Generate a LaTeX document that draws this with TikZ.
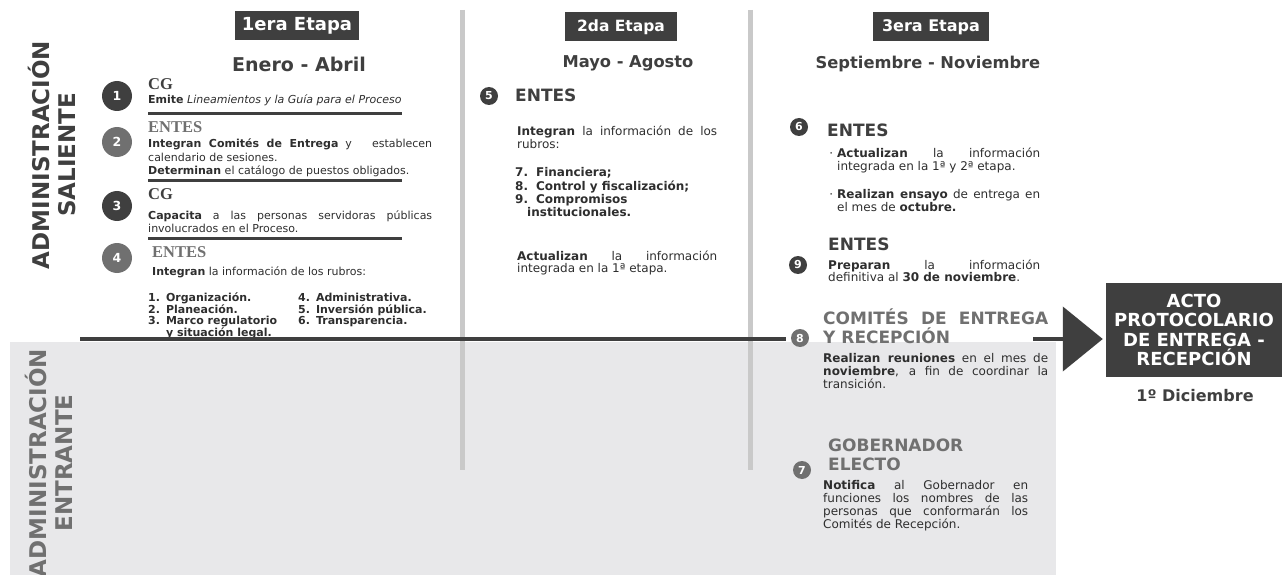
\documentclass[tikz,border=0pt]{standalone}
\usepackage{fontspec}
\setmainfont{DejaVu Sans}
\newfontfamily\hdserif{Liberation Serif}
\usetikzlibrary{arrows.meta}
\definecolor{oscuro}{HTML}{3F3F3F}
\definecolor{gris}{HTML}{707070}
\definecolor{texto}{HTML}{2E2E2E}
\definecolor{separa}{HTML}{C9C9C9}
\definecolor{fondo}{HTML}{E8E8EA}

\begin{document}
\begin{tikzpicture}[x=1pt,y=-1pt,
    etapa/.style={fill=oscuro, text=white, inner sep=0pt, minimum height=29pt, font=\bfseries\fontsize{15.5}{17}\selectfont},
    periodo/.style={text=oscuro, font=\bfseries\fontsize{16.3}{18}\selectfont},
    num/.style={circle, fill=oscuro, text=white, inner sep=0pt, font=\bfseries\fontsize{12.5}{12.5}\selectfont},
    numgr/.style={num, minimum size=30pt},
    numch/.style={num, minimum size=18pt, font=\bfseries\fontsize{11}{11}\selectfont},
    tenue/.style={fill=gris},
    cab/.style={anchor=base west, inner sep=0pt, text=oscuro, font=\hdserif\bfseries\fontsize{16.5}{17}\selectfont},
    cabsans/.style={anchor=base west, inner sep=0pt, text=oscuro, font=\bfseries\fontsize{17}{19.5}\selectfont},
    cuerpo/.style={anchor=base west, inner sep=0pt, text=texto, align=justify, font=\fontsize{11}{13.5}\selectfont},
    cuerpog/.style={cuerpo, font=\fontsize{12}{13}\selectfont},
    lista/.style={anchor=base west, inner sep=0pt, text=texto, font=\bfseries\fontsize{11}{11}\selectfont},
    raya/.style={line width=3pt, oscuro},
    divide/.style={line width=5pt, separa},
    vertical/.style={rotate=90, align=center, font=\bfseries\fontsize{23}{26}\selectfont}
  ]
  \useasboundingbox (0,0) rectangle (1286,575);

  % fondo de la administracion entrante
  \fill[fondo] (10,342) rectangle (1056,575);
  \draw[divide] (462,10) -- (462,470);
  \draw[divide] (750,10) -- (750,470);

  % etapas
  \node[etapa, minimum width=124pt, font=\bfseries\fontsize{18}{19}\selectfont] (et1) at (297,26) {1era Etapa};
  \node[periodo, font=\bfseries\fontsize{19}{21}\selectfont] (per1) at (299,64) {Enero - Abril};
  \node[etapa, minimum width=112pt] (et2) at (621,27) {2da Etapa};
  \node[periodo] (per2) at (628,63) {Mayo - Agosto};
  \node[etapa, minimum width=116pt, font=\bfseries\fontsize{16}{17}\selectfont] (et3) at (931,27) {3era Etapa};
  \node[periodo] (per3) at (928,64) {Septiembre - Noviembre};

  % primera etapa
  \node[numgr] (n1) at (117,96) {1};
  \node[cab] (cg1) at (148,90) {CG};
  \node[cuerpo, text width=284pt] (t1) at (148,104) {\textbf{Emite} \textit{Lineamientos y la Guía para el Proceso}};
  \draw[raya] (148,114) -- (402,114);

  \node[numgr, tenue] (n2) at (117,142) {2};
  \node[cab, text=gris] (en2) at (148,133) {ENTES};
  \node[cuerpo, text width=284pt] (t2) at (148,148) {\textbf{Integran Comités de Entrega} y \hspace{1.2em}establecen\linebreak calendario de sesiones.\\\textbf{Determinan} el catálogo de puestos obligados.};
  \draw[raya] (148,181) -- (402,181);

  \node[numgr] (n3) at (117,206) {3};
  \node[cab] (cg3) at (148,200) {CG};
  \node[cuerpo, text width=284pt] (t3) at (148,219) {\textbf{Capacita} a las personas servidoras públicas\linebreak involucrados en el Proceso.};
  \draw[raya] (148,238) -- (402,238);

  \node[numgr, tenue] (n4) at (117,258) {4};
  \node[cab, text=gris] (en4) at (152,258) {ENTES};
  \node[cuerpo] (t4) at (152,275) {\textbf{Integran} la información de los rubros:};
  \node[lista] (l4a) at (148,301) {\begin{tabular}[t]{@{}l@{\hspace{6pt}}l@{}}1.&Organización.\\2.&Planeación.\\3.&Marco regulatorio\\&y situación legal.\end{tabular}};
  \node[lista] (l4b) at (298,301) {\begin{tabular}[t]{@{}l@{\hspace{6pt}}l@{}}4.&Administrativa.\\5.&Inversión pública.\\6.&Transparencia.\end{tabular}};

  % segunda etapa
  \node[numch] (n5) at (489,96) {5};
  \node[cabsans] (en5) at (515,102) {ENTES};
  \node[cuerpog, text width=200pt] (t5) at (517,136) {\textbf{Integran} la información de los\linebreak rubros:};
  \node[lista, font=\bfseries\fontsize{12}{13}\selectfont] (l5) at (515,177) {\begin{tabular}[t]{@{}l@{\hspace{8pt}}l@{}}7.&Financiera;\\8.&Control y fiscalización;\\9.&Compromisos\\\multicolumn{2}{@{}l@{}}{\hspace{12pt}institucionales.}\end{tabular}};
  \node[cuerpog, text width=200pt] (t5b) at (517,260) {\textbf{Actualizan} la información\linebreak integrada en la 1ª etapa.};

  % tercera etapa
  \node[numch] (n6) at (799,127) {6};
  \node[cabsans] (en6) at (827,137) {ENTES};
  \node[cuerpog, text width=203pt] (t6a) at (837,158) {\llap{·\hspace{4pt}}\textbf{Actualizan} la información\linebreak integrada en la 1ª y 2ª etapa.};
  \node[cuerpog, text width=203pt] (t6b) at (837,199) {\llap{·\hspace{4pt}}\textbf{Realizan ensayo} de entrega en\linebreak el mes de \textbf{octubre.}};

  \node[numch] (n9) at (798,265) {9};
  \node[cabsans] (en9) at (828,250) {ENTES};
  \node[cuerpog, text width=212pt] (t9) at (828,269) {\textbf{Preparan} la información\linebreak definitiva al \textbf{30 de noviembre}.};

  \node[numch, tenue] (n8) at (800,338) {8};
  \node[cabsans, text=gris, text width=225pt, align=justify] (en8) at (823,324) {COMITÉS DE ENTREGA\linebreak Y RECEPCIÓN};
  \node[cuerpog, text width=225pt] (t8) at (823,362) {\textbf{Realizan reuniones} en el mes de\linebreak \textbf{noviembre}, a fin de coordinar la\linebreak transición.};

  \node[numch, tenue] (n7) at (802,470) {7};
  \node[cabsans, text=gris, text width=205pt, align=left] (en7) at (828,451) {GOBERNADOR\\ELECTO};
  \node[cuerpog, text width=205pt] (t7) at (823,489) {\textbf{Notifica} al Gobernador en\linebreak funciones los nombres de las\linebreak personas que conformarán los\linebreak Comités de Recepción.};

  % acto final
  \node[fill=oscuro, text=white, minimum width=176pt, minimum height=94pt, inner sep=0pt, align=center, font=\bfseries\fontsize{18}{19.5}\selectfont] (acto) at (1194,330) {ACTO\\PROTOCOLARIO\\DE ENTREGA -\\RECEPCIÓN};
  \node[text=oscuro, font=\bfseries\fontsize{16}{18}\selectfont] (fecha) at (1195,396) {1º Diciembre};

  \coordinate (inicio) at (80,339);
  \coordinate (corte) at (786,339);
  \coordinate (reanuda) at (1033,339);
  \draw[oscuro, line width=4.5pt] (inicio) -- (corte);
  \draw[oscuro, line width=4.5pt, -{Triangle[length=40pt,width=64pt]}, shorten >=3pt] (reanuda) -- (reanuda -| acto.west);

  % administraciones
  \node[vertical, text=oscuro] (sal) at (52,155) {ADMINISTRACIÓN\\SALIENTE};
  \node[vertical, text=gris] (ent) at (49,463) {ADMINISTRACIÓN\\ENTRANTE};
\end{tikzpicture}
\end{document}
